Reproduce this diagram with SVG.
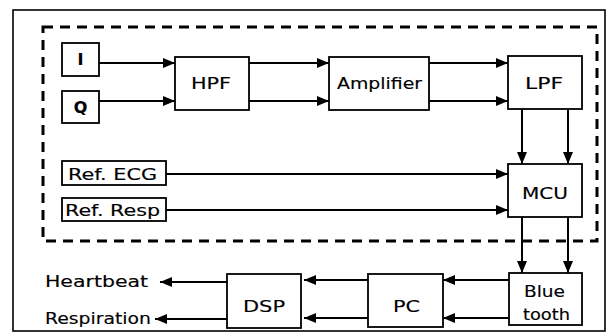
<svg xmlns="http://www.w3.org/2000/svg" width="610" height="334" viewBox="0 0 610 334">
<defs>
<marker id="ah" markerWidth="12" markerHeight="10" refX="12" refY="5" orient="auto" markerUnits="userSpaceOnUse">
<path d="M0,0 L12,5 L0,10 Z" fill="#000"/>
</marker>
<style>
.box{fill:#fff;stroke:#000;stroke-width:1.8}
.t{font-family:"DejaVu Sans","Liberation Sans",sans-serif;font-size:16px;fill:#000;stroke:#000;stroke-width:0.15}
.c{stroke:#000;stroke-width:2;fill:none;marker-end:url(#ah)}
</style>
</defs>
<rect width="610" height="334" fill="#fff"/>
<rect x="13" y="10" width="592" height="321" fill="none" stroke="#000" stroke-width="1.6"/>
<rect x="43" y="27" width="554" height="214" fill="none" stroke="#000" stroke-width="3" stroke-dasharray="10,7"/>
<g id="connectors">
<line class="c" x1="99" y1="63" x2="175" y2="63"/>
<line class="c" x1="99" y1="101" x2="175" y2="101"/>
<line class="c" x1="249" y1="63" x2="329" y2="63"/>
<line class="c" x1="249" y1="101" x2="329" y2="101"/>
<line class="c" x1="429" y1="63" x2="508" y2="63"/>
<line class="c" x1="429" y1="101" x2="508" y2="101"/>
<line class="c" x1="522" y1="109" x2="522" y2="164"/>
<line class="c" x1="568" y1="109" x2="568" y2="164"/>
<line class="c" x1="166" y1="174" x2="508" y2="174"/>
<line class="c" x1="166" y1="210" x2="508" y2="210"/>
<line class="c" x1="522" y1="217" x2="522" y2="273"/>
<line class="c" x1="568" y1="217" x2="568" y2="273"/>
<line class="c" x1="509" y1="280" x2="443" y2="280"/>
<line class="c" x1="509" y1="318" x2="443" y2="318"/>
<line class="c" x1="368" y1="280" x2="304" y2="280"/>
<line class="c" x1="368" y1="318" x2="304" y2="318"/>
<line class="c" x1="227" y1="282" x2="160" y2="282"/>
<line class="c" x1="227" y1="319" x2="155" y2="319"/>
</g>
<g id="I"><rect class="box" x="62" y="43" width="37" height="33"/><text class="t" x="80.5" y="65" text-anchor="middle" font-weight="bold">I</text></g>
<g id="Q"><rect class="box" x="62" y="91" width="37" height="32"/><text class="t" x="80.5" y="113" text-anchor="middle" font-weight="bold">Q</text></g>
<g id="HPF"><rect class="box" x="175" y="57" width="74" height="53"/><text class="t" x="191" y="89" textLength="40" lengthAdjust="spacingAndGlyphs">HPF</text></g>
<g id="Amplifier"><rect class="box" x="329" y="57" width="100" height="53"/><text class="t" x="337" y="89" textLength="85" lengthAdjust="spacingAndGlyphs">Amplifier</text></g>
<g id="LPF"><rect class="box" x="508" y="56" width="74" height="53"/><text class="t" x="525" y="89" textLength="38" lengthAdjust="spacingAndGlyphs">LPF</text></g>
<g id="RefECG"><rect class="box" x="62" y="161" width="104" height="24"/><text class="t" x="68" y="180" textLength="89" lengthAdjust="spacingAndGlyphs">Ref. ECG</text></g>
<g id="RefResp"><rect class="box" x="62" y="198" width="104" height="23"/><text class="t" x="65" y="216" textLength="95" lengthAdjust="spacingAndGlyphs">Ref. Resp</text></g>
<g id="MCU"><rect class="box" x="508" y="164" width="74" height="53"/><text class="t" x="522" y="199" textLength="46" lengthAdjust="spacingAndGlyphs">MCU</text></g>
<g id="Bluetooth"><rect class="box" x="509" y="273" width="73" height="52"/><text class="t" x="524" y="297" textLength="41" lengthAdjust="spacingAndGlyphs">Blue</text><text class="t" x="523" y="320" textLength="47" lengthAdjust="spacingAndGlyphs">tooth</text></g>
<g id="PC"><rect class="box" x="368" y="274" width="75" height="53"/><text class="t" x="393" y="312" textLength="27" lengthAdjust="spacingAndGlyphs">PC</text></g>
<g id="DSP"><rect class="box" x="227" y="274" width="74" height="54"/><text class="t" x="243" y="312" textLength="42" lengthAdjust="spacingAndGlyphs">DSP</text></g>
<g id="Heartbeat"><text class="t" x="45" y="287" textLength="103" lengthAdjust="spacingAndGlyphs">Heartbeat</text></g>
<g id="Respiration"><text class="t" x="45" y="324" textLength="106" lengthAdjust="spacingAndGlyphs">Respiration</text></g>
</svg>
